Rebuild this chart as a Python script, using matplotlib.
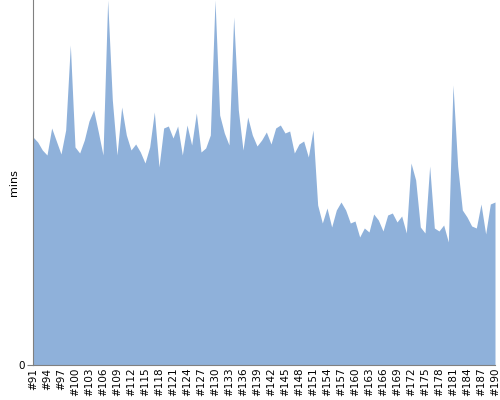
import matplotlib
matplotlib.use('Agg')
import matplotlib.pyplot as plt

# build numbers #91 .. #190
builds = ['#' + str(n) for n in range(91, 191)]

# minutes per build
mins = [22.8, 22.3, 21.5, 21.0, 23.7, 22.4, 21.1, 23.5, 32.0, 21.8,
        21.2, 22.5, 24.4, 25.5, 23.3, 21.0, 36.5, 26.5, 21.0, 25.8,
        23.0, 21.5, 22.1, 21.3, 20.2, 21.8, 25.3, 19.8, 23.7, 23.9,
        22.7, 23.9, 21.0, 24.0, 22.0, 25.2, 21.3, 21.7, 23.0, 36.5,
        25.0, 23.2, 22.0, 34.8, 25.5, 21.5, 24.8, 23.0, 21.9, 22.5,
        23.3, 22.1, 23.7, 24.0, 23.2, 23.4, 21.2, 22.1, 22.4, 20.8,
        23.5, 16.0, 14.2, 15.7, 13.8, 15.5, 16.3, 15.5, 14.2, 14.4,
        12.8, 13.7, 13.3, 15.1, 14.5, 13.4, 15.0, 15.2, 14.3, 14.9,
        13.2, 20.2, 18.5, 13.8, 13.2, 19.9, 13.7, 13.4, 14.0, 12.3,
        28.0, 19.9, 15.5, 14.8, 13.9, 13.7, 16.1, 13.1, 16.1, 16.3]

x = list(range(len(builds)))

fig = plt.figure(figsize=(5, 4), dpi=100)
ax = fig.add_axes([0.066, 0.0875, 0.924, 0.9125])

ax.fill_between(x, mins, 0, color='#8fb1da', linewidth=0)

ax.set_xlim(0, len(builds) - 1)
ax.set_ylim(0, max(mins))

ax.set_xticks(x[::3])
ax.set_xticklabels(builds[::3], rotation=90, fontsize=7.5)
ax.set_yticks([0])
ax.set_yticklabels(['0'], fontsize=7.5)
ax.tick_params(axis='x', length=0, pad=2)
ax.tick_params(axis='y', length=4, color='#808080', pad=2)
ax.set_ylabel('mins', fontsize=8)
ax.yaxis.set_label_coords(-0.03, 0.5)

for s in ['top', 'right']:
    ax.spines[s].set_visible(False)
ax.spines['left'].set_color('#808080')
ax.spines['bottom'].set_color('#808080')

fig.savefig('out.png', dpi=100)
